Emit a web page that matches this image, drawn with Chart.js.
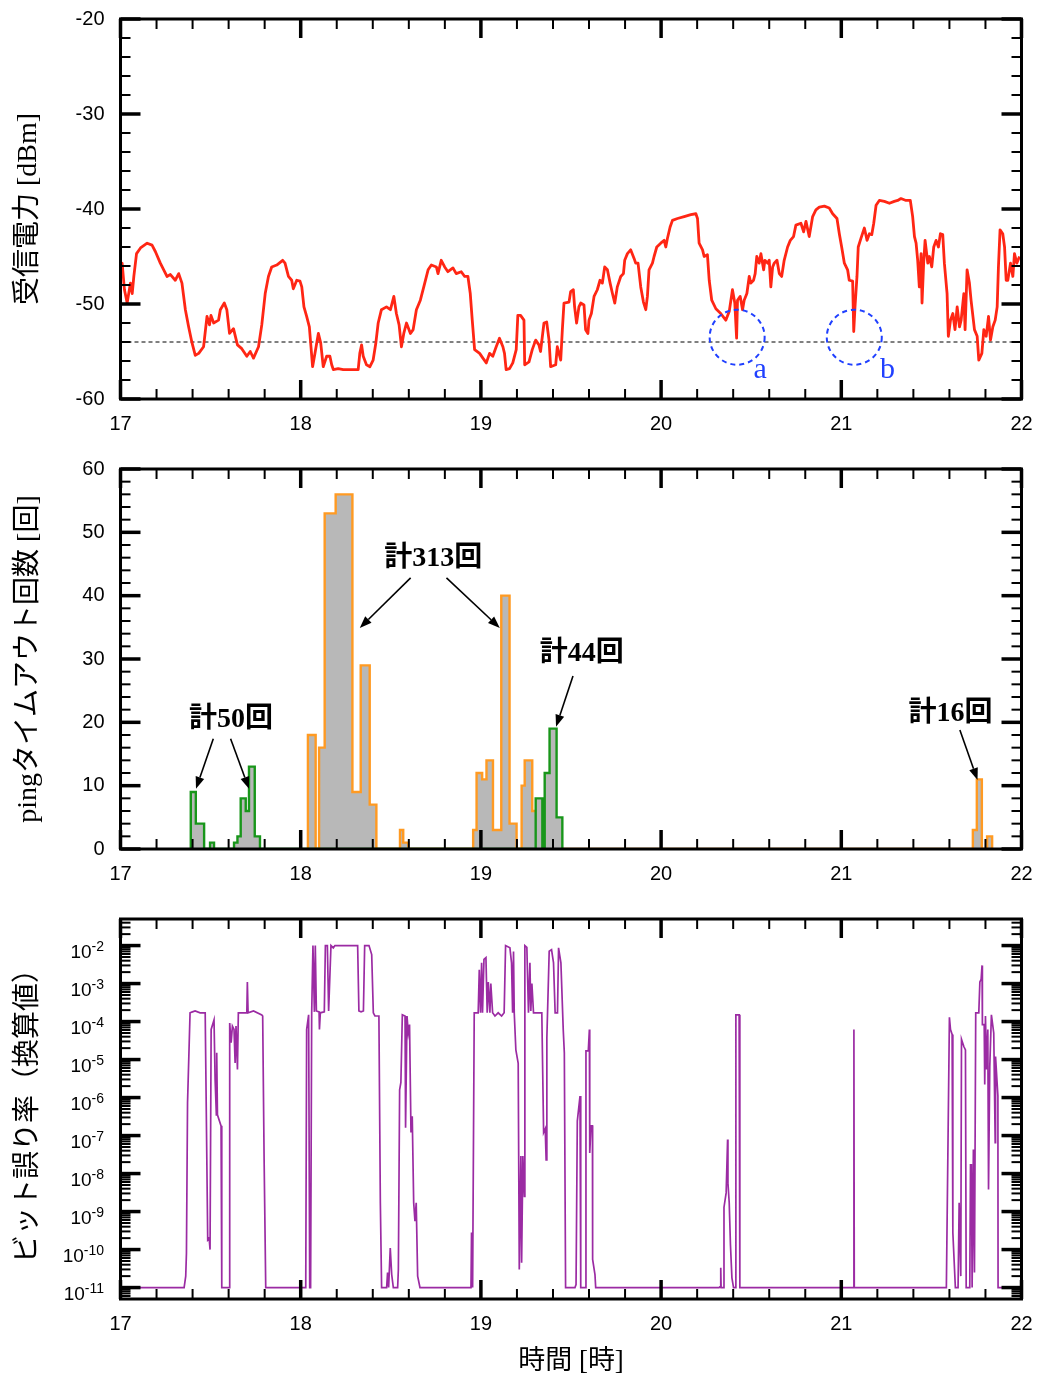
<!DOCTYPE html>
<html lang="ja">
<head>
<meta charset="UTF-8">
<title>受信電力・pingタイムアウト回数・ビット誤り率</title>
<script src="https://cdn.jsdelivr.net/npm/chart.js"></script>
<style>
  body { margin: 0; background: #fff; }
  .wrap { position: relative; width: 1038px; height: 1381px; }
  .wrap canvas { position: absolute; left: 0; }
</style>
</head>
<body>
<div class="wrap">
  <canvas id="chartRssi" width="1038" height="450" style="top:0"></canvas>
  <canvas id="chartPing" width="1038" height="450" style="top:450px"></canvas>
  <canvas id="chartBer" width="1038" height="481" style="top:900px"></canvas>
</div>

<script>
// 受信電力 [dBm] (時刻は時)
const rssiTime = [
  17.000, 17.009, 17.022, 17.037, 17.055, 17.065, 17.074, 17.089, 17.111, 17.148, 17.175, 17.194,
  17.221, 17.258, 17.277, 17.304, 17.323, 17.341, 17.360, 17.378, 17.397, 17.415, 17.434, 17.461,
  17.480, 17.494, 17.502, 17.517, 17.544, 17.554, 17.576, 17.590, 17.605, 17.627, 17.649, 17.673,
  17.701, 17.720, 17.738, 17.766, 17.784, 17.803, 17.821, 17.839, 17.867, 17.900, 17.913, 17.932,
  17.950, 17.959, 17.978, 17.996, 18.006, 18.018, 18.033, 18.048, 18.057, 18.066, 18.079, 18.098,
  18.111, 18.125, 18.144, 18.162, 18.172, 18.181, 18.208, 18.236, 18.319, 18.328, 18.338, 18.347,
  18.365, 18.384, 18.402, 18.417, 18.430, 18.448, 18.476, 18.498, 18.517, 18.531, 18.546, 18.559,
  18.572, 18.587, 18.609, 18.624, 18.642, 18.664, 18.683, 18.707, 18.725, 18.753, 18.762, 18.780,
  18.799, 18.817, 18.845, 18.863, 18.891, 18.910, 18.928, 18.941, 18.952, 18.965, 18.993, 19.011,
  19.030, 19.048, 19.066, 19.085, 19.103, 19.122, 19.131, 19.140, 19.159, 19.177, 19.196, 19.205,
  19.220, 19.239, 19.243, 19.267, 19.285, 19.304, 19.322, 19.331, 19.350, 19.365, 19.378, 19.387,
  19.415, 19.424, 19.443, 19.452, 19.461, 19.489, 19.498, 19.513, 19.520, 19.531, 19.544, 19.554,
  19.572, 19.581, 19.594, 19.600, 19.613, 19.628, 19.646, 19.661, 19.674, 19.687, 19.702, 19.717,
  19.730, 19.743, 19.757, 19.776, 19.791, 19.798, 19.813, 19.831, 19.850, 19.859, 19.872, 19.887,
  19.902, 19.915, 19.924, 19.933, 19.952, 19.961, 19.976, 19.998, 20.017, 20.026, 20.035, 20.050,
  20.063, 20.091, 20.128, 20.165, 20.193, 20.202, 20.211, 20.230, 20.239, 20.257, 20.267, 20.281,
  20.304, 20.331, 20.359, 20.378, 20.396, 20.409, 20.419, 20.424, 20.439, 20.452, 20.461, 20.476,
  20.489, 20.498, 20.513, 20.522, 20.531, 20.544, 20.554, 20.569, 20.576, 20.591, 20.600, 20.609,
  20.619, 20.628, 20.643, 20.656, 20.669, 20.683, 20.702, 20.717, 20.735, 20.748, 20.776, 20.791,
  20.804, 20.822, 20.841, 20.859, 20.878, 20.906, 20.933, 20.952, 20.976, 20.989, 21.002, 21.017,
  21.035, 21.044, 21.063, 21.069, 21.076, 21.087, 21.094, 21.109, 21.128, 21.143, 21.156, 21.169,
  21.180, 21.193, 21.211, 21.239, 21.267, 21.294, 21.313, 21.331, 21.359, 21.383, 21.396, 21.406,
  21.415, 21.424, 21.433, 21.443, 21.448, 21.457, 21.465, 21.480, 21.489, 21.502, 21.513, 21.526,
  21.539, 21.550, 21.563, 21.572, 21.587, 21.594, 21.606, 21.619, 21.631, 21.643, 21.656, 21.665,
  21.680, 21.687, 21.698, 21.711, 21.720, 21.739, 21.754, 21.763, 21.780, 21.791, 21.804, 21.817,
  21.828, 21.841, 21.854, 21.865, 21.872, 21.881, 21.896, 21.906, 21.915, 21.924, 21.939, 21.952,
  21.961, 21.974, 21.989
];
const rssiDbm = [
  -46.0, -45.7, -48.5, -49.9, -47.8, -48.9, -47.1, -44.7, -44.1, -43.6, -43.8, -44.5,
  -45.7, -47.1, -46.9, -47.5, -46.8, -47.8, -50.6, -52.4, -54.1, -55.4, -55.2, -54.5,
  -51.3, -52.2, -51.2, -52.0, -51.7, -50.6, -49.9, -50.6, -53.1, -52.6, -54.3, -54.7,
  -55.5, -55.0, -55.7, -54.5, -52.2, -48.9, -47.1, -46.1, -45.9, -45.4, -45.7, -47.1,
  -47.5, -48.4, -47.5, -47.6, -48.2, -50.3, -51.3, -52.4, -54.5, -56.6, -55.2, -53.1,
  -54.1, -56.6, -55.5, -55.5, -56.4, -56.9, -56.8, -56.9, -56.9, -55.2, -54.3, -55.5,
  -56.4, -56.6, -55.9, -54.1, -52.0, -50.6, -50.3, -50.6, -49.2, -51.0, -52.2, -54.5,
  -53.1, -52.0, -53.1, -52.7, -50.6, -49.6, -48.2, -46.4, -45.9, -46.1, -46.8, -45.4,
  -46.1, -46.6, -46.2, -46.8, -46.6, -47.1, -47.1, -48.9, -51.7, -54.8, -55.2, -55.7,
  -56.2, -55.2, -55.5, -54.5, -53.6, -54.5, -55.2, -56.9, -56.8, -56.2, -54.8, -51.2,
  -51.2, -51.7, -56.4, -56.1, -54.8, -53.8, -54.3, -55.0, -52.0, -51.9, -53.8, -56.6,
  -56.4, -54.5, -55.9, -52.7, -49.9, -49.8, -48.7, -48.5, -50.3, -52.0, -50.3, -49.9,
  -50.1, -52.7, -53.1, -51.7, -51.0, -49.2, -48.5, -47.5, -47.8, -46.1, -46.4, -47.8,
  -48.9, -49.9, -48.2, -47.1, -46.8, -45.4, -44.7, -44.3, -45.2, -45.7, -45.7, -48.2,
  -49.8, -50.6, -49.2, -46.4, -45.7, -45.0, -44.0, -43.6, -43.3, -44.0, -43.1, -41.9,
  -41.2, -41.0, -40.8, -40.6, -40.5, -41.0, -43.6, -44.3, -45.0, -44.8, -47.5, -49.6,
  -50.5, -51.0, -51.7, -50.8, -48.5, -49.9, -53.6, -49.6, -49.2, -50.6, -49.6, -48.9,
  -47.1, -47.8, -47.5, -46.8, -45.0, -45.7, -44.7, -46.4, -45.4, -45.7, -45.4, -48.2,
  -46.1, -45.7, -45.4, -46.8, -47.1, -45.4, -44.0, -43.3, -42.9, -41.7, -41.5, -42.4,
  -41.3, -42.9, -40.8, -40.1, -39.8, -39.7, -39.9, -40.5, -41.0, -42.6, -44.0, -45.7,
  -46.4, -47.5, -47.6, -52.9, -50.3, -47.1, -44.0, -43.1, -42.0, -43.3, -42.6, -42.7,
  -41.5, -39.6, -39.1, -39.2, -39.4, -39.2, -39.1, -38.9, -39.1, -39.1, -40.8, -42.9,
  -43.6, -45.4, -48.2, -44.7, -49.9, -45.7, -43.3, -45.7, -45.0, -46.1, -44.0, -43.3,
  -44.0, -42.6, -42.7, -45.7, -48.9, -53.4, -51.7, -51.0, -52.7, -50.3, -52.4, -51.7,
  -48.9, -52.7, -46.4, -47.8, -49.6, -52.7, -53.4, -55.9, -55.2, -52.7, -53.4, -51.3,
  -53.8, -52.4, -51.7, -50.3, -46.1, -42.2, -42.6, -44.0, -47.5, -47.5, -45.7, -47.1,
  -44.7, -45.7, -45.0
];
const rssiThreshold = -54;
const lossMarks = [
  { label: 'a', h: 20.422, dbm: -53.5, labelH: 20.550, labelDbm: -57.8 },
  { label: 'b', h: 21.072, dbm: -53.5, labelH: 21.257, labelDbm: -57.8 }
];

// pingタイムアウト回数 (階級の左端と回数)
const orangeEdges = [
  18.040, 18.083, 18.102, 18.133, 18.194, 18.287, 18.333, 18.383, 18.420, 18.551, 18.569, 18.597,
  18.957, 18.976, 19.007, 19.031, 19.067, 19.113, 19.159, 19.198, 19.226, 19.243, 19.285, 19.322,
  21.730, 21.752, 21.780, 21.809, 21.837
];
const orangeCounts = [
  18, 0, 16, 53, 56, 9, 29, 7, 0, 3, 1, 0,
  3, 12, 11, 14, 3, 40, 4, 0, 10, 14, 6, 0,
  3, 11, 0, 2, 0
];
const greenEdges = [
  17.390, 17.418, 17.464, 17.497, 17.519, 17.630, 17.649, 17.667, 17.695, 17.713, 17.745, 17.774,
  19.304, 19.341, 19.354, 19.381, 19.420, 19.452
];
const greenCounts = [
  9, 4, 0, 1, 0, 1, 2, 8, 6, 13, 2, 0,
  8, 0, 12, 19, 5, 0
];
const pingNotes = [
  { text: '計313回', h: 18.735, n: 45.9, arrows: [[18.610, 42.8, 18.328, 34.9], [18.809, 42.8, 19.105, 34.9]] },
  { text: '計50回', h: 17.613, n: 20.4, arrows: [[17.515, 17.4, 17.419, 9.5], [17.611, 17.4, 17.713, 9.5]] },
  { text: '計44回', h: 19.559, n: 30.9, arrows: [[19.511, 27.3, 19.417, 19.3]] },
  { text: '計16回', h: 21.606, n: 21.3, arrows: [[21.658, 18.8, 21.756, 10.9]] }
];

// ビット誤り率 (換算値)
const berTime = [
  17.000, 17.353, 17.362, 17.366, 17.372, 17.386, 17.399, 17.414, 17.442, 17.470, 17.484, 17.492,
  17.497, 17.503, 17.519, 17.525, 17.532, 17.534, 17.538, 17.558, 17.562, 17.604, 17.606, 17.614,
  17.621, 17.630, 17.636, 17.641, 17.649, 17.654, 17.701, 17.704, 17.708, 17.738, 17.784, 17.789,
  17.797, 17.806, 18.028, 18.033, 18.044, 18.050, 18.055, 18.061, 18.068, 18.076, 18.081, 18.087,
  18.102, 18.104, 18.109, 18.131, 18.137, 18.148, 18.155, 18.168, 18.181, 18.190, 18.316, 18.323,
  18.335, 18.348, 18.355, 18.379, 18.394, 18.403, 18.412, 18.434, 18.442, 18.449, 18.477, 18.482,
  18.488, 18.497, 18.505, 18.514, 18.538, 18.542, 18.549, 18.556, 18.564, 18.579, 18.582, 18.590,
  18.597, 18.604, 18.612, 18.619, 18.627, 18.634, 18.641, 18.649, 18.662, 18.945, 18.948, 18.954,
  18.963, 18.985, 18.991, 18.998, 19.004, 19.009, 19.017, 19.028, 19.035, 19.041, 19.050, 19.055,
  19.065, 19.078, 19.096, 19.115, 19.129, 19.137, 19.161, 19.170, 19.176, 19.181, 19.185, 19.194,
  19.207, 19.213, 19.222, 19.226, 19.233, 19.241, 19.244, 19.255, 19.264, 19.272, 19.277, 19.283,
  19.292, 19.338, 19.348, 19.357, 19.362, 19.366, 19.379, 19.392, 19.403, 19.412, 19.425, 19.431,
  19.444, 19.457, 19.463, 19.470, 19.522, 19.528, 19.535, 19.550, 19.554, 19.581, 19.583, 19.596,
  19.602, 19.604, 19.611, 19.619, 19.620, 19.633, 19.637, 20.322, 20.330, 20.331, 20.333, 20.348,
  20.349, 20.361, 20.369, 20.371, 20.378, 20.385, 20.393, 20.402, 20.413, 20.415, 20.433, 20.437,
  21.068, 21.070, 21.072, 21.583, 21.600, 21.606, 21.615, 21.619, 21.633, 21.648, 21.654, 21.663,
  21.667, 21.680, 21.689, 21.693, 21.713, 21.717, 21.722, 21.726, 21.733, 21.739, 21.746, 21.763,
  21.769, 21.776, 21.781, 21.783, 21.793, 21.796, 21.800, 21.806, 21.813, 21.817, 21.824, 21.833,
  21.846, 21.854, 21.856, 21.869, 21.870, 21.985
];
const berValue = [
  1e-11, 1e-11, 2.0e-11, 8.1e-11, 7.2e-7, 1.7e-4, 1.8e-4, 1.9e-4, 1.7e-4, 1.7e-4, 1.8e-10, 2.0e-10,
  1.0e-10, 6.2e-5, 1.1e-4, 3.0e-6, 3.5e-7, 1.5e-5, 3.5e-7, 1.8e-7, 1e-11, 1e-11, 9.1e-5, 2.8e-5,
  7.6e-5, 6.2e-5, 8.1e-6, 7.6e-5, 5.5e-6, 1.7e-4, 1.7e-4, 1.1e-3, 1.7e-4, 1.9e-4, 1.5e-4, 1.4e-4,
  2.3e-8, 1e-11, 1e-11, 6.2e-5, 1.5e-4, 1e-11, 1e-11, 1.7e-4, 1e-2, 1.8e-4, 1e-2, 1.9e-4,
  1.8e-4, 6.2e-5, 1.7e-4, 1.8e-4, 1e-2, 1e-2, 1.9e-4, 1e-2, 8.7e-3, 1e-2, 1e-2, 1.9e-4,
  1.8e-4, 1.9e-4, 1e-2, 1e-2, 5.8e-3, 1.7e-4, 1.4e-4, 1.4e-4, 1.7e-9, 1e-11, 1e-11, 2.5e-11,
  1e-11, 1.1e-10, 2.2e-11, 1e-11, 1e-11, 3.0e-11, 1.6e-6, 2.5e-6, 1.5e-4, 1.4e-4, 1.6e-7, 1.4e-4,
  5.0e-5, 8.3e-5, 1.2e-7, 3.2e-7, 1.7e-9, 5.6e-10, 1.7e-9, 2.0e-11, 1e-11, 1e-11, 2.8e-10, 1e-11,
  1.7e-4, 1.7e-4, 2.3e-3, 1.7e-4, 3.5e-3, 1.7e-4, 4.3e-3, 4.8e-3, 1.7e-4, 1.1e-3, 1.7e-4, 1.0e-3,
  1.7e-4, 1.4e-4, 1.7e-4, 1.4e-4, 1.7e-4, 1e-2, 8.7e-3, 3.5e-3, 1.7e-4, 7.0e-3, 1.7e-4, 1.8e-5,
  8.0e-6, 3.0e-11, 2.9e-8, 4.5e-11, 2.9e-8, 2.5e-9, 1e-2, 9.0e-3, 1.7e-4, 3.5e-3, 1.9e-4, 1.0e-3,
  1.7e-4, 1.7e-4, 1.2e-7, 1.5e-7, 2.3e-8, 3.7e-5, 7.1e-3, 7.8e-3, 3.5e-3, 1.7e-4, 1.7e-4, 8.7e-3,
  3.5e-3, 6.0e-5, 1.5e-5, 1e-11, 1e-11, 1.2e-11, 2.4e-7, 1.1e-6, 1e-11, 1e-11, 1.7e-5, 1.7e-5,
  6.2e-5, 3.5e-8, 1.8e-7, 1.8e-7, 5.5e-11, 2.2e-11, 1e-11, 1e-11, 1.1e-11, 3.3e-11, 1e-11, 1e-11,
  1.3e-9, 3.1e-9, 7.9e-8, 5.6e-9, 1.7e-9, 1.3e-10, 1.8e-11, 1e-11, 1e-11, 1.5e-4, 1.5e-4, 1e-11,
  1e-11, 6.2e-5, 1e-11, 1e-11, 1.3e-4, 6.2e-5, 4.6e-5, 2.8e-10, 1e-11, 1e-11, 1.7e-9, 2.0e-11,
  3.4e-5, 2.2e-5, 1.8e-5, 1e-11, 1e-11, 1.7e-8, 1.7e-8, 1e-11, 4.3e-8, 2.5e-11, 1.7e-4, 1.7e-4,
  1.1e-3, 1.3e-3, 3.0e-3, 8.3e-5, 8.3e-5, 2.2e-6, 1.4e-4, 5.5e-6, 6.2e-5, 3.8e-9, 6.6e-6, 1.5e-4,
  5.0e-5, 6.5e-8, 1.2e-5, 1.1e-6, 1e-11, 1e-11
];
const berDecades = [-2, -3, -4, -5, -6, -7, -8, -9, -10, -11];

// ---- 共通設定 ----
const tickFont = { family: '"Liberation Sans", Arial, sans-serif', size: 20 };
const titleFamily = '"Liberation Serif", "Noto Sans CJK JP", serif';
const AREA_BOTTOM = 399;

// 目盛り線は自前で描くので、grid は非表示のまま tickLength を文字の間隔に使う
function xScale(canvasHeight, title) {
  return {
    type: 'linear', min: 17, max: 22,
    ticks: { stepSize: 1, font: tickFont, color: '#000', padding: 0, maxRotation: 0, autoSkip: false },
    grid: { display: false, tickLength: 13 },
    border: { display: false },
    title: title
      ? { display: true, text: title, color: '#000', font: { family: titleFamily, size: 27 }, padding: { top: 0, bottom: 3 } }
      : { display: false },
    afterFit: s => { s.height = canvasHeight - AREA_BOTTOM; }
  };
}

function yScale(title, extra) {
  return Object.assign({
    ticks: { font: tickFont, color: '#000', padding: 0 },
    grid: { display: false, tickLength: 16 },
    border: { display: false },
    title: { display: true, text: title, color: '#000', font: { family: titleFamily, size: 28 }, padding: { top: 12 } },
    afterFit: s => { s.width = 120.5; }
  }, extra);
}

function linearTicks(min, max, minor, major) {
  const out = [];
  for (let v = min; v <= max; v += minor) out.push({ v: v, major: v % major === 0 });
  return out;
}

function logTicks() {
  const out = [];
  for (let e = -12; e <= -2; e++) {
    for (let m = 1; m <= 9; m++) {
      const v = m * Math.pow(10, e);
      if (v >= 5e-12 && v <= 5e-2) out.push({ v: v, major: m === 1 });
    }
  }
  return out;
}

// 枠と内向きの目盛り
const framePlugin = {
  id: 'frame',
  afterDatasetsDraw(chart, args, opts) {
    const { ctx, chartArea: a, scales: { x, y } } = chart;
    ctx.save();
    ctx.strokeStyle = '#000';
    const seg = (x1, y1, x2, y2, w) => {
      ctx.lineWidth = w;
      ctx.beginPath(); ctx.moveTo(x1, y1); ctx.lineTo(x2, y2); ctx.stroke();
    };
    for (let i = 0; i <= 25; i++) {
      const px = x.getPixelForValue(17 + i / 5);
      const major = i % 5 === 0;
      seg(px, a.bottom, px, a.bottom - (major ? 19 : 10), major ? 3.5 : 2);
      seg(px, a.top, px, a.top + (major ? 19 : 10), major ? 3.5 : 2);
    }
    opts.yTicks.forEach(t => {
      const py = y.getPixelForValue(t.v);
      seg(a.left, py, a.left + (t.major ? 20 : 10), py, t.major ? 3.5 : 2);
      seg(a.right, py, a.right - (t.major ? 20 : 10), py, t.major ? 3.5 : 2);
    });
    ctx.lineWidth = 3;
    ctx.strokeRect(a.left, a.top, a.right - a.left, a.bottom - a.top);
    ctx.restore();
  }
};

function baseOptions() {
  return {
    responsive: false,
    animation: false,
    devicePixelRatio: 1,
    events: [],
    layout: { padding: { top: 19, right: 16.5, left: 0, bottom: 0 } },
    elements: { point: { radius: 0 } },
    plugins: { legend: { display: false }, tooltip: { enabled: false } }
  };
}

// ---- 受信電力 ----
const rssiNotesPlugin = {
  id: 'rssiNotes',
  beforeDatasetsDraw(chart) {
    const { ctx, chartArea: a, scales: { y } } = chart;
    const py = y.getPixelForValue(rssiThreshold);
    ctx.save();
    ctx.strokeStyle = '#000';
    ctx.lineWidth = 1;
    ctx.setLineDash([4, 3]);
    ctx.beginPath(); ctx.moveTo(a.left, py); ctx.lineTo(a.right, py); ctx.stroke();
    ctx.restore();
  },
  afterDatasetsDraw(chart) {
    const { ctx, scales: { x, y } } = chart;
    ctx.save();
    ctx.strokeStyle = '#2040ff';
    ctx.fillStyle = '#2040ff';
    ctx.lineWidth = 2;
    ctx.setLineDash([5, 4]);
    ctx.font = '30px "Liberation Serif", serif';
    ctx.textAlign = 'center';
    ctx.textBaseline = 'alphabetic';
    lossMarks.forEach(m => {
      ctx.beginPath();
      ctx.arc(x.getPixelForValue(m.h), y.getPixelForValue(m.dbm), 27.5, 0, Math.PI * 2);
      ctx.stroke();
      ctx.fillText(m.label, x.getPixelForValue(m.labelH), y.getPixelForValue(m.labelDbm));
    });
    ctx.restore();
  }
};

const rssiOptions = baseOptions();
rssiOptions.scales = {
  x: xScale(450, null),
  y: yScale('受信電力 [dBm]', { min: -60, max: -20, ticks: { font: tickFont, color: '#000', padding: 0, stepSize: 10 } })
};
rssiOptions.plugins.frame = { yTicks: linearTicks(-60, -20, 2, 10) };

new Chart(document.getElementById('chartRssi'), {
  type: 'line',
  data: {
    datasets: [{
      data: rssiTime.map((t, i) => ({ x: t, y: rssiDbm[i] })),
      borderColor: '#ff2614',
      borderWidth: 2.8,
      borderJoinStyle: 'round',
      tension: 0,
      fill: false
    }]
  },
  options: rssiOptions,
  plugins: [rssiNotesPlugin, framePlugin]
});

// ---- pingタイムアウト回数 ----
function stepPoints(edges, counts) {
  const pts = [{ x: edges[0], y: 0 }];
  edges.forEach((e, i) => pts.push({ x: e, y: counts[i] }));
  return pts;
}

function drawArrow(ctx, x1, y1, x2, y2) {
  const ang = Math.atan2(y2 - y1, x2 - x1);
  const len = 12, half = 4.5;
  const bx = x2 - len * Math.cos(ang), by = y2 - len * Math.sin(ang);
  ctx.beginPath(); ctx.moveTo(x1, y1); ctx.lineTo(bx, by); ctx.stroke();
  ctx.beginPath();
  ctx.moveTo(x2, y2);
  ctx.lineTo(bx + half * Math.sin(ang), by - half * Math.cos(ang));
  ctx.lineTo(bx - half * Math.sin(ang), by + half * Math.cos(ang));
  ctx.closePath();
  ctx.fill();
}

const pingNotesPlugin = {
  id: 'pingNotes',
  afterDatasetsDraw(chart) {
    const { ctx, scales: { x, y } } = chart;
    ctx.save();
    ctx.strokeStyle = '#000';
    ctx.fillStyle = '#000';
    ctx.lineWidth = 1.6;
    ctx.font = 'bold 28px ' + titleFamily;
    ctx.textAlign = 'center';
    ctx.textBaseline = 'middle';
    pingNotes.forEach(n => {
      ctx.fillText(n.text, x.getPixelForValue(n.h), y.getPixelForValue(n.n));
      n.arrows.forEach(a => drawArrow(ctx,
        x.getPixelForValue(a[0]), y.getPixelForValue(a[1]),
        x.getPixelForValue(a[2]), y.getPixelForValue(a[3])));
    });
    ctx.restore();
  }
};

const pingOptions = baseOptions();
pingOptions.scales = {
  x: xScale(450, null),
  y: yScale('pingタイムアウト回数 [回]', { min: 0, max: 60, ticks: { font: tickFont, color: '#000', padding: 0, stepSize: 10 } })
};
pingOptions.plugins.frame = { yTicks: linearTicks(0, 60, 2, 10) };

new Chart(document.getElementById('chartPing'), {
  type: 'line',
  data: {
    datasets: [
      {
        data: stepPoints(greenEdges, greenCounts),
        stepped: true,
        borderColor: '#18961a',
        borderWidth: 2.4,
        backgroundColor: '#b8b8b8',
        fill: 'origin'
      },
      {
        data: stepPoints(orangeEdges, orangeCounts),
        stepped: true,
        borderColor: '#ff9a22',
        borderWidth: 2.4,
        backgroundColor: '#b8b8b8',
        fill: 'origin'
      }
    ]
  },
  options: pingOptions,
  plugins: [pingNotesPlugin, framePlugin]
});

// ---- ビット誤り率 ----
const berLabelsPlugin = {
  id: 'berLabels',
  afterDraw(chart) {
    const { ctx, scales: { y } } = chart;
    const right = 104;
    ctx.save();
    ctx.fillStyle = '#000';
    ctx.textBaseline = 'alphabetic';
    ctx.textAlign = 'left';
    berDecades.forEach(e => {
      const py = y.getPixelForValue(Math.pow(10, e));
      const base = '10', exp = String(e);
      ctx.font = '19px "Liberation Sans", Arial, sans-serif';
      const wb = ctx.measureText(base).width;
      ctx.font = '14px "Liberation Sans", Arial, sans-serif';
      const we = ctx.measureText(exp).width;
      const x0 = right - wb - we;
      ctx.font = '19px "Liberation Sans", Arial, sans-serif';
      ctx.fillText(base, x0, py + 12);
      ctx.font = '14px "Liberation Sans", Arial, sans-serif';
      ctx.fillText(exp, x0 + wb, py + 5.5);
    });
    ctx.restore();
  }
};

const berOptions = baseOptions();
berOptions.scales = {
  x: xScale(481, '時間 [時]'),
  y: yScale('ビット誤り率（換算値）', { type: 'logarithmic', min: 5e-12, max: 5e-2, ticks: { display: false } })
};
berOptions.plugins.frame = { yTicks: logTicks() };

new Chart(document.getElementById('chartBer'), {
  type: 'line',
  data: {
    datasets: [{
      data: berTime.map((t, i) => ({ x: t, y: berValue[i] })),
      borderColor: '#9b2ba3',
      borderWidth: 1.7,
      tension: 0,
      fill: false
    }]
  },
  options: berOptions,
  plugins: [berLabelsPlugin, framePlugin]
});
</script>
</body>
</html>
